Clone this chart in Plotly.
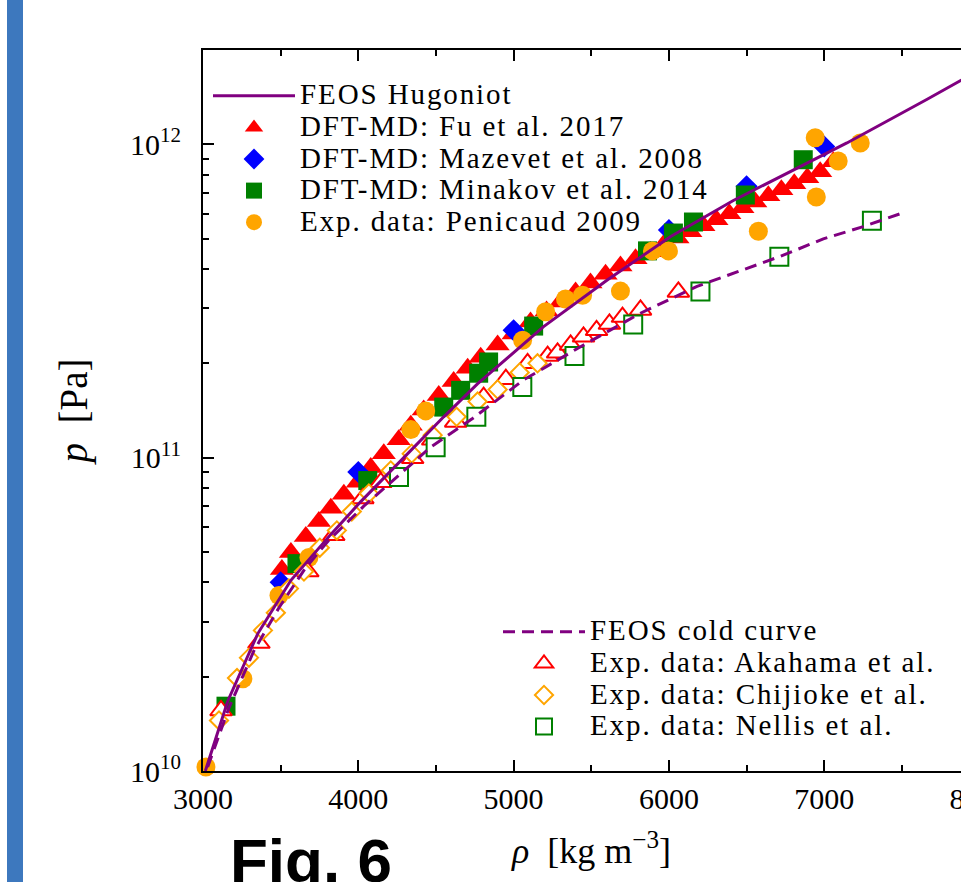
import plotly.graph_objects as go

# ---------------- data: density rho [kg m^-3], pressure p [Pa] ----------------
# FEOS Hugoniot (solid line)
hug_rho = [3015, 3159, 3352, 3566, 3823, 4016, 4293, 4550, 4767, 5193, 5603,
           6009, 6415, 6846, 7146, 7660, 7881, 8000]
hug_p = [1.00e10, 1.67e10, 2.74e10, 4.06e10, 5.69e10, 7.24e10, 1.00e11, 1.35e11,
         1.72e11, 2.62e11, 3.69e11, 5.07e11, 6.62e11, 8.49e11, 1.01e12, 1.39e12,
         1.60e12, 1.70e12]

# FEOS cold curve (dashed line)
cold_rho = [3030, 3167, 3328, 3489, 3662, 3810, 4035, 4209, 4466, 4733, 5064,
            5431, 5817, 6181, 6717, 6994, 7251, 7508]
cold_p = [1.03e10, 1.59e10, 2.42e10, 3.32e10, 4.46e10, 5.45e10, 7.00e10, 8.36e10,
          1.08e11, 1.33e11, 1.77e11, 2.26e11, 2.89e11, 3.52e11, 4.39e11, 4.99e11,
          5.46e11, 6.05e11]

# DFT-MD: Fu et al. 2017
fu_rho = [3508, 3566, 3662, 3746, 3823, 3907, 3997, 4080, 4164, 4260, 4338, 4421,
          4518, 4614, 4704, 4788, 4897, 5000, 5109, 5212, 5302, 5399, 5495, 5592,
          5688, 5785, 5881, 5965, 6055, 6138, 6222, 6306, 6389, 6473, 6556, 6640,
          6724, 6807, 6891, 6974, 7058]
fu_p = [4.40e10, 4.98e10, 5.60e10, 6.25e10, 6.89e10, 7.64e10, 8.34e10, 9.31e10,
        1.03e11, 1.14e11, 1.27e11, 1.42e11, 1.58e11, 1.75e11, 1.93e11, 2.09e11,
        2.29e11, 2.48e11, 2.71e11, 2.94e11, 3.14e11, 3.38e11, 3.61e11, 3.85e11,
        4.09e11, 4.31e11, 4.54e11, 4.78e11, 5.02e11, 5.26e11, 5.50e11, 5.74e11,
        6.00e11, 6.27e11, 6.55e11, 6.85e11, 7.16e11, 7.48e11, 7.82e11, 8.17e11,
        8.79e11]

# DFT-MD: Mazevet et al. 2008
maz_rho = [3500, 4000, 5000, 6000, 6500, 7000]
maz_p = [4.00e10, 9.00e10, 2.55e11, 5.33e11, 7.35e11, 9.84e11]

# DFT-MD: Minakov et al. 2014
min_rho = [3148, 3605, 4061, 4550, 4659, 4775, 4839, 5129, 5862, 6029, 6158,
           6492, 6865]
min_p = [1.61e10, 4.59e10, 8.45e10, 1.45e11, 1.64e11, 1.86e11, 2.02e11, 2.63e11,
         4.57e11, 5.21e11, 5.65e11, 6.89e11, 8.93e11]

# Exp. data: Penicaud 2009
pen_rho = [3019, 3257, 3489, 3682, 4338, 4434, 5058, 5206, 5334, 5444, 5688,
           5894, 5997, 6576, 6942, 7090, 6949, 7232]
pen_p = [1.03e10, 1.97e10, 3.63e10, 4.80e10, 1.23e11, 1.41e11, 2.37e11, 2.92e11,
         3.21e11, 3.30e11, 3.40e11, 4.57e11, 4.57e11, 5.28e11, 1.05e12, 8.85e11,
         6.79e11, 1.01e12]

# Exp. data: Akahama et al.
aka_rho = [3116, 3360, 3675, 3842, 4029, 4145, 4350, 4479, 4627, 4807, 4950,
           5090, 5219, 5283, 5367, 5450, 5534, 5617, 5701, 5817, 6061]
aka_p = [1.56e10, 2.56e10, 4.33e10, 5.65e10, 7.41e10, 8.34e10, 9.95e10, 1.14e11,
         1.30e11, 1.56e11, 1.78e11, 2.00e11, 2.11e11, 2.16e11, 2.29e11, 2.43e11,
         2.55e11, 2.67e11, 2.81e11, 2.96e11, 3.38e11]

# Exp. data: Chijioke et al.
chi_rho = [3103, 3219, 3296, 3386, 3469, 3553, 3650, 3752, 3862, 3958, 4068,
           4209, 4344, 4479, 4633, 4768, 4897, 5039, 5154]
chi_p = [1.45e10, 1.98e10, 2.30e10, 2.81e10, 3.20e10, 3.82e10, 4.33e10, 5.16e10,
         5.86e10, 6.73e10, 7.69e10, 9.10e10, 1.03e11, 1.18e11, 1.35e11, 1.51e11,
         1.65e11, 1.87e11, 2.00e11]

# Exp. data: Nellis et al.
nel_rho = [4262, 4498, 4760, 5056, 5392, 5770, 6203, 6711, 7307]
nel_p = [8.67e10, 1.08e11, 1.35e11, 1.68e11, 2.11e11, 2.66e11, 3.39e11, 4.38e11,
         5.70e11]

# axis ticks
x_ticks = [3000, 4000, 5000, 6000, 7000, 8000]
y_ticks = [1e10, 1e11, 1e12]
y_ticktext = ["10<sup>10</sup>", "10<sup>11</sup>", "10<sup>12</sup>"]
y_minor = [m * 10.0 ** e for e in (10, 11) for m in range(2, 10)] + [2e12]

PURPLE = "#800080"
SERIF = "Liberation Serif"


def lname(s):
    # legend rows keep a compact line height; the label itself is drawn larger
    return ('<span style="font-family:\'Liberation Serif\',serif;'
            f'font-size:29px;letter-spacing:1.9px">{s}</span>')


fig = go.Figure()


def markers(x, y, name, symbol, size, color, filled, legend, rank):
    fig.add_trace(go.Scatter(
        x=x, y=y, mode="markers", name=lname(name), legend=legend,
        legendrank=rank, cliponaxis=False,
        marker=dict(symbol=symbol, size=size,
                    color=color if filled else "white",
                    line=dict(width=0 if filled else 2, color=color)),
    ))


markers(fu_rho, fu_p, "DFT-MD: Fu et al. 2017", "triangle-up", 21, "#ff0000", True, "legend", 2)
markers(maz_rho, maz_p, "DFT-MD: Mazevet et al. 2008", "diamond", 17, "#0000ff", True, "legend", 3)
markers(min_rho, min_p, "DFT-MD: Minakov et al. 2014", "square", 19, "#008000", True, "legend", 4)
markers(pen_rho, pen_p, "Exp. data: Penicaud 2009", "circle", 19, "#ffa500", True, "legend", 5)
markers(aka_rho, aka_p, "Exp. data: Akahama et al.", "triangle-up", 19, "#ff0000", False, "legend2", 2)
markers(chi_rho, chi_p, "Exp. data: Chijioke et al.", "diamond", 14, "#ffa500", False, "legend2", 3)
markers(nel_rho, nel_p, "Exp. data: Nellis et al.", "square", 18, "#008000", False, "legend2", 4)

fig.add_trace(go.Scatter(
    x=hug_rho, y=hug_p, mode="lines", name=lname("FEOS Hugoniot"),
    legend="legend", legendrank=1, line=dict(color=PURPLE, width=3),
))
fig.add_trace(go.Scatter(
    x=cold_rho, y=cold_p, mode="lines", name=lname("FEOS cold curve"),
    legend="legend2", legendrank=1,
    line=dict(color=PURPLE, width=3, dash="12px,7px"),
))

# plot area: 203..980 px horizontally, 50..771 px vertically
L, R, T, B = 203, 20, 50, 111
W, H = 1000, 882
PW, PH = W - L - R, H - T - B


def px(xp):
    return (xp - L) / PW


def py(yp):
    return (H - B - yp) / PH


axis_common = dict(
    showline=True, linecolor="black", linewidth=2, mirror="ticks",
    ticks="inside", ticklen=11, tickwidth=1.5, tickcolor="black",
    showgrid=False, zeroline=False, automargin=False,
    tickfont=dict(family=SERIF, size=30, color="black"),
)

fig.update_layout(
    width=W, height=H,
    margin=dict(l=L, r=R, t=T, b=B),
    paper_bgcolor="white", plot_bgcolor="white",
    xaxis=dict(
        range=[3000, 8003], tickmode="array", tickvals=x_ticks,
        ticklabeloverflow="allow",
        minor=dict(dtick=500, tick0=3000, ticks="inside", ticklen=6,
                   tickwidth=1.5, tickcolor="black"),
        title=dict(text="<i>ρ</i>\u2002[kg\u2005m<sup>−3</sup>]",
                   font=dict(family=SERIF, size=36, color="black"), standoff=24),
        **axis_common,
    ),
    yaxis=dict(
        type="log", range=[10, 12.301], tickmode="array", tickvals=y_ticks,
        ticktext=y_ticktext, ticklabelstandoff=14,
        minor=dict(tickmode="array", tickvals=y_minor, ticks="inside", ticklen=6,
                   tickwidth=1.5, tickcolor="black"),
        title=dict(text="<i>p</i>\u2002[Pa]",
                   font=dict(family=SERIF, size=39, color="black"), standoff=30),
        **axis_common,
    ),
    legend=dict(
        x=px(208), y=py(75), xanchor="left", yanchor="top",
        bgcolor="rgba(0,0,0,0)", borderwidth=0, itemwidth=82,
        font=dict(family=SERIF, size=22, color="black"), tracegroupgap=0,
    ),
    legend2=dict(
        x=px(498), y=py(611), xanchor="left", yanchor="top",
        bgcolor="rgba(0,0,0,0)", borderwidth=0, itemwidth=82,
        font=dict(family=SERIF, size=22, color="black"), tracegroupgap=0,
    ),
    shapes=[dict(type="rect", xref="paper", yref="paper",
                 x0=px(7), x1=px(23), y0=py(H + 5), y1=py(-5),
                 fillcolor="#3d78be", line=dict(width=0), layer="above")],
    annotations=[dict(text="<b>Fig. 6</b>", xref="paper", yref="paper",
                      x=px(228), y=py(824), xanchor="left", yanchor="top",
                      showarrow=False,
                      font=dict(family="Liberation Sans", size=62, color="black"))],
    showlegend=True,
)

fig.write_html("out.html")
